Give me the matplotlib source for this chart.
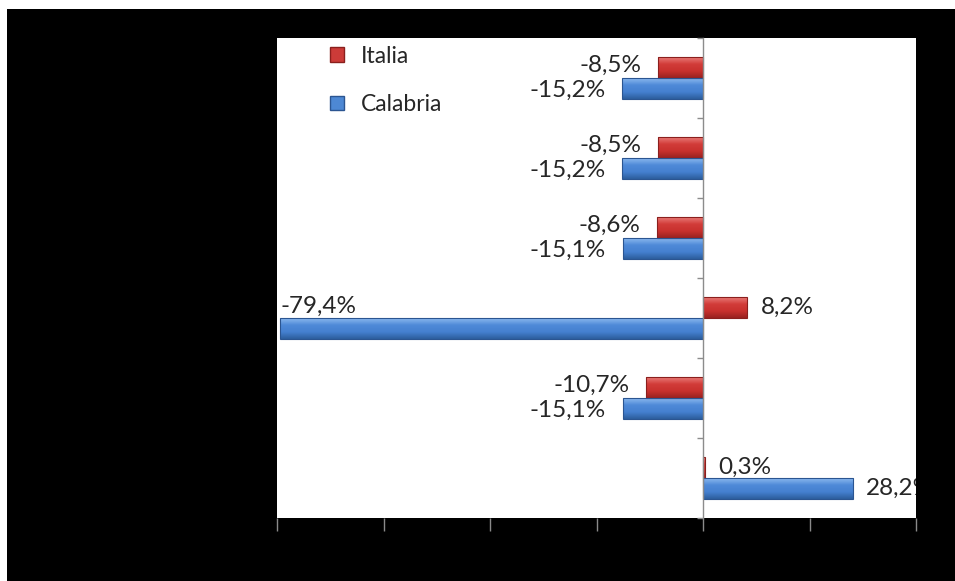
import matplotlib
matplotlib.use("Agg")
import matplotlib.pyplot as plt
from matplotlib.patches import Patch, Rectangle
from matplotlib.colors import to_rgb
from matplotlib.transforms import offset_copy
import numpy as np

plt.rcParams['font.family'] = ['Lato', 'DejaVu Sans']

series_names = ["Italia", "Calabria"]
italia = [-8.5, -8.5, -8.6, 8.2, -10.7, 0.3]
calabria = [-15.2, -15.2, -15.1, -79.4, -15.1, 28.2]
xticks = [-80, -60, -40, -20, 0, 20, 40]

red = '#cc3b38'
red_edge = '#8a1f1d'
red_grad = ['#e87a76', '#d23c39', '#c8312e', '#9a2220']
blue = '#4d88d4'
blue_edge = '#2b5591'
blue_grad = ['#8ab8ee', '#4f8ad8', '#4580d0', '#2d5f9e']

def fmt(v):
    return f"{v:.1f}".replace('.', ',') + '%'

def gradient(stops, n=40):
    cols = np.array([to_rgb(c) for c in stops])
    pos = np.linspace(0, 1, len(stops))
    t = np.linspace(0, 1, n)
    arr = np.stack([np.interp(t, pos, cols[:, k]) for k in range(3)], axis=-1)
    return arr[:, None, :]

fig = plt.figure(figsize=(9.55, 5.81), dpi=100)
fig.patch.set_facecolor('white')
fig.patches.append(Rectangle((7/955, 0), 1, 1 - 9/581, transform=fig.transFigure,
                             facecolor='black', edgecolor='none', zorder=-10))

ax = fig.add_axes([277/955, 63/581, 639/955, 480/581])
ax.set_zorder(5)
ax.set_facecolor('white')

n = len(italia)
y = np.arange(n)
h = 0.26
off = 0.135
bars_i = ax.barh(y - off, italia, height=h, color=red, edgecolor=red_edge, linewidth=0.8,
                 label=series_names[0], zorder=3)
bars_c = ax.barh(y + off, calabria, height=h, color=blue, edgecolor=blue_edge, linewidth=0.8,
                 label=series_names[1], zorder=3)

for bars, stops in ((bars_i, red_grad), (bars_c, blue_grad)):
    g = gradient(stops)
    for p in bars.patches:
        x0, y0 = p.get_x(), p.get_y()
        w, hh = p.get_width(), p.get_height()
        xa, xb = min(x0, x0 + w), max(x0, x0 + w)
        im = ax.imshow(g, extent=[xa, xb, y0 + hh, y0], origin='upper',
                       aspect='auto', zorder=3.1, interpolation='bilinear')
        im.set_clip_path(p)
        p.set_facecolor('none')
        p.set_zorder(3.2)

ax.set_xlim(-80, 40)
ax.set_ylim(n - 0.5, -0.5)
ax.set_aspect('auto')

fs = 17.5
tc = '#262626'

def label(x, yy, s, dx, dy, ha):
    tr = offset_copy(ax.transData, fig=fig, x=dx, y=dy, units='points')
    ax.text(x, yy, s, transform=tr, ha=ha, va='center', fontsize=fs, color=tc,
            zorder=4, clip_on=True)

for i, v in enumerate(italia):
    if v < 0:
        label(v, i - off, fmt(v), -12, 1, 'right')
    else:
        label(v, i - off, fmt(v), 10, 0, 'left')
for i, v in enumerate(calabria):
    if v < -60:
        label(v, i + off, fmt(v), 0, 16, 'left')
    elif v < 0:
        label(v, i + off, fmt(v), -12, -1, 'right')
    else:
        label(v, i + off, fmt(v), 9, 0, 'left')

for s in ['top', 'right', 'bottom']:
    ax.spines[s].set_visible(False)
ax.spines['left'].set_position(('data', 0))
ax.spines['left'].set_color('#8c8c8c')
ax.spines['left'].set_linewidth(1.0)
ax.spines['left'].set_zorder(5)

ax.set_yticks(np.arange(-0.5, n, 1.0))
ax.set_yticklabels([])
ax.tick_params(axis='y', direction='out', length=4, color='#8c8c8c', width=1)
ax.set_xticks(xticks)
ax.set_xticklabels([])
ax.tick_params(axis='x', direction='out', length=9, color='#8a8a8a', width=1)

handles = [Patch(facecolor=red, edgecolor=red_edge), Patch(facecolor=blue, edgecolor=blue_edge)]
ax.legend(handles, series_names, loc='upper left', bbox_to_anchor=(0.0505, 1.027),
          frameon=False, fontsize=16.5, labelspacing=1.2, handlelength=0.6,
          handleheight=0.6, handletextpad=0.75, labelcolor='#262626')

fig.savefig('out.png', dpi=100, facecolor=fig.get_facecolor())
